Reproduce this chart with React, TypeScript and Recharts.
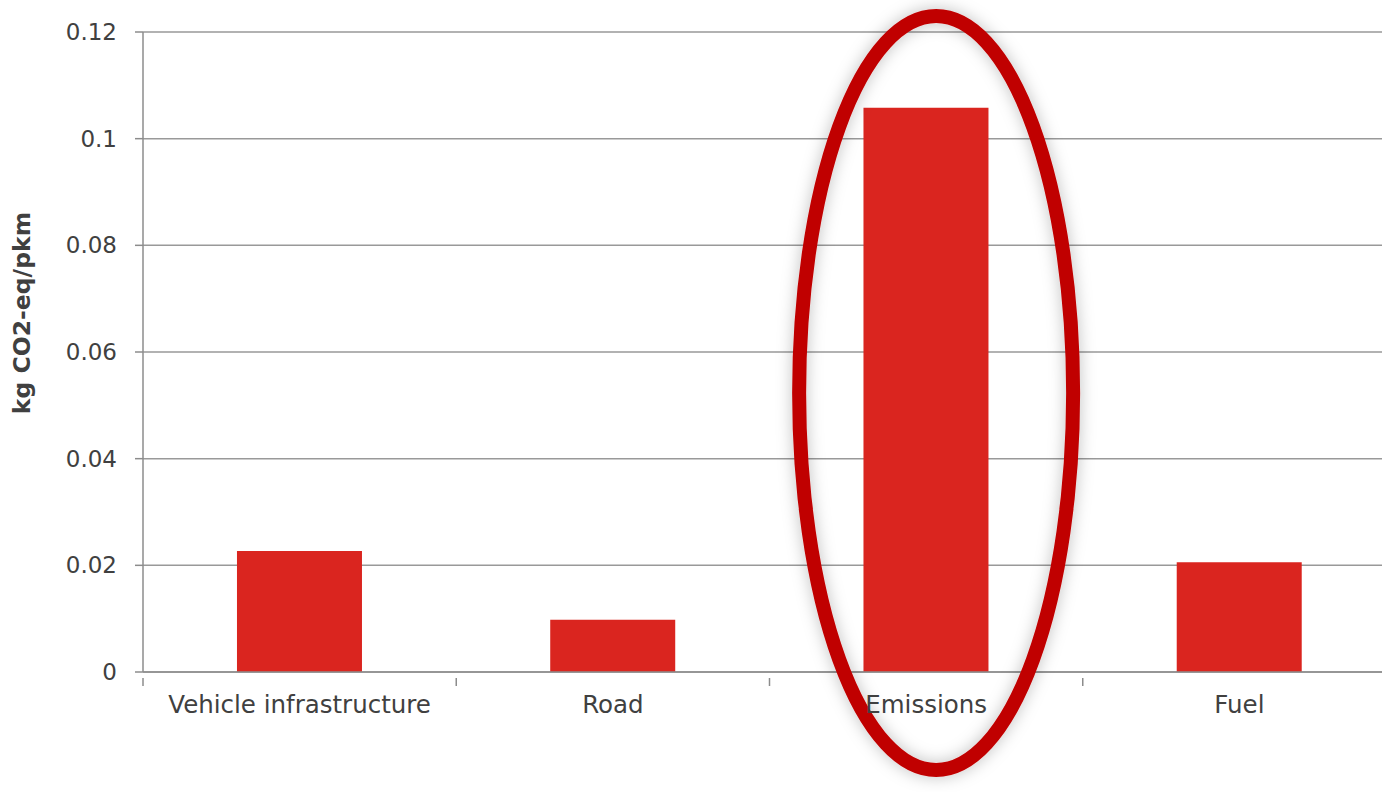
import React from "react";
import { BarChart, Bar, XAxis, YAxis, CartesianGrid, ReferenceDot } from "recharts";

const categories = ["Vehicle infrastructure", "Road", "Emissions", "Fuel"];
const values = [0.0227, 0.0098, 0.1058, 0.0206];
const yTicks = [0, 0.02, 0.04, 0.06, 0.08, 0.1, 0.12];
const yLabel = "kg CO2-eq/pkm";
const highlight = { category: "Emissions", value: 0.0523 };

const data = categories.map((c, i) => ({ name: c, value: values[i] }));

const W = 1396;
const H = 792;
const LEFT = 143;
const BAND = (W - LEFT) / categories.length;

const XTick = (props: any) => {
  const { x, y, payload } = props;
  return (
    <g>
      <line x1={x - BAND / 2} x2={x - BAND / 2} y1={y - 2} y2={y + 6} stroke="#8c8c8c" strokeWidth={1.5} />
      <text x={x} y={y + 33} textAnchor="middle" fill="#404040" fontFamily="DejaVu Sans" fontSize={24.5}>
        {payload.value}
      </text>
    </g>
  );
};

const EllipseShape = (props: any) => {
  const { cx, cy } = props;
  return (
    <g>
      <ellipse cx={cx + 10} cy={cy} rx={137} ry={377} fill="none" stroke="#c00000" strokeWidth={14} filter="url(#shadow)" />
    </g>
  );
};

const YLabel = () => (
  <text
    x={30}
    y={313}
    transform="rotate(-90 30 313)"
    textAnchor="middle"
    fill="#404040"
    fontFamily="DejaVu Sans"
    fontWeight="bold"
    fontSize={23.5}
  >
    {yLabel}
  </text>
);

export default function App() {
  return (
    <div style={{ position: "absolute", left: 0, top: 0, width: 1382, height: 792, overflow: "hidden", background: "#fff" }}>
      <BarChart width={W} height={H} data={data} margin={{ top: 32, right: 0, left: 0, bottom: 82 }} barCategoryGap="30%">
        <defs>
          <filter id="shadow" x="-50%" y="-20%" width="200%" height="140%">
            <feDropShadow dx={0} dy={0} stdDeviation={8} floodColor="#000" floodOpacity={0.25} />
          </filter>
        </defs>
        <CartesianGrid vertical={false} stroke="#999" strokeWidth={1.5} />
        <XAxis
          dataKey="name"
          axisLine={{ stroke: "#8c8c8c", strokeWidth: 1.5 }}
          tickLine={false}
          tick={<XTick />}
          interval={0}
          height={38}
        />
        <YAxis
          width={LEFT}
          domain={[0, 0.12]}
          ticks={yTicks}
          axisLine={{ stroke: "#8c8c8c", strokeWidth: 1.5 }}
          tickLine={{ stroke: "#8c8c8c", strokeWidth: 1.5 }}
          tickSize={8}
          tickMargin={18}
          tick={{ fill: "#404040", fontFamily: "DejaVu Sans", fontSize: 23 }}
          label={<YLabel />}
        />
        <Bar dataKey="value" fill="#da251f" isAnimationActive={false} />
        <ReferenceDot x={highlight.category} y={highlight.value} r={1} shape={<EllipseShape />} />
      </BarChart>
    </div>
  );
}
